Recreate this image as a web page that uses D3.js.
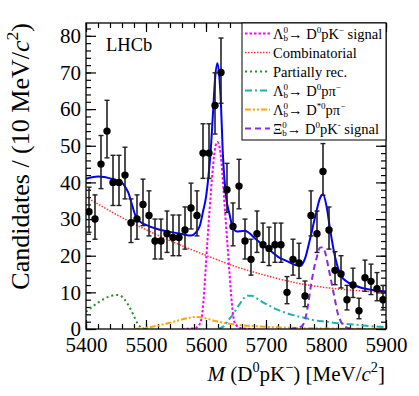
<!DOCTYPE html>
<html>
<head>
<meta charset="utf-8">
<script src="https://cdn.jsdelivr.net/npm/d3@7"></script>
<style>
  body { margin: 0; background: #fff; }
  text { font-family: "Liberation Serif", "Times New Roman", serif; }
</style>
</head>
<body>
<div id="chart"></div>
<script>
// data (10 MeV bins)
var binMass = [5405,5415,5425,5435,5445,5455,5465,5475,5485,5495,
               5505,5515,5525,5535,5545,5555,5565,5575,5585,5595,
               5605,5615,5625,5635,5645,5655,5665,5675,5685,5695,
               5705,5715,5725,5735,5745,5755,5765,5775,5785,5795,
               5805,5815,5825,5835,5845,5855,5865,5875,5885,5895]
var counts = [32,30,45,54,40,40,42,29,30,34,
              31,24,24,26,25,25,27,33,31,48,
              48,61,70,38,28,39,24,19,26,23,
              22,23,23,10,19,18,9,31,26,43,
              27,16,15,8,12,5,14,13,11,8]
var errLow = [5.6,5.5,6.7,7.3,6.3,6.3,6.5,5.4,5.5,5.8,
              5.6,4.9,4.9,5.1,5.0,5.0,5.2,5.7,5.6,6.9,
              6.9,7.8,8.4,6.2,5.3,6.2,4.9,4.3,5.1,4.8,
              4.7,4.8,4.8,3.1,4.3,4.2,2.9,5.6,5.1,6.5,
              5.2,3.9,3.8,2.8,3.4,2.2,3.7,3.6,3.3,2.8]
var errHigh = [6.7,6.6,7.8,8.4,7.4,7.4,7.6,6.5,6.6,6.9,
               6.7,6.0,6.0,6.2,6.1,6.1,6.3,6.8,6.7,8.0,
               8.0,8.9,9.4,7.2,6.4,7.3,6.0,5.5,6.2,5.9,
               5.8,5.9,5.9,4.3,5.5,5.4,4.1,6.7,6.2,7.6,
               6.3,5.1,5.0,3.9,4.6,3.4,4.8,4.7,4.4,3.9]

// fit curves
var totalMass = [5400,5410,5420,5430,5440,5450,5460,5466,5471,5476,5482,5490,5500,5520,5540,5560,5575,5583,5590,5595,
                 5600,5604,5608,5612,5615,5619,5622,5625,5628,5633,5639,5645,5652,5658,5665,5672,5680,5690,5698,5710,
                 5720,5735,5748,5757,5765,5773,5782,5790,5795,5801,5807,5815,5826,5836,5846,5860,5873,5900]
var totalVals = [41,41.4,41.6,41.5,41.1,40.7,40,38.6,37,34.3,31.1,29.3,28.4,27.2,26.5,25.9,25.5,26.3,28.3,32,
                 36,41.5,49,60,68,72.5,69.3,61,48,36.6,31.5,27.5,26.6,26.7,26.8,26.2,25,23.6,22.5,21,
                 19.7,18.5,17.5,17.2,19.2,24.3,30.6,35.7,36.8,33.4,27,19.7,14.3,12.8,12,11.2,10.8,10.2]
var lbSigMass = [5560,5580,5588,5592,5596,5600,5604,5608,5612,5616,5619,5622,5626,5630,5634,5638,5642,5646,5650,5660,5680]
var lbSigVals = [0,0.2,1,2.5,8,18,28,37,45,50,51,50,45,36,27,18,9,3,1,0.2,0]
var combMass = [5400,5450,5500,5550,5600,5650,5700,5750,5800,5850,5900]
var combVals = [36,31.3,27.1,23.4,20.1,17,14.6,12.6,11.3,10.5,10]
var partMass = [5400,5410,5420,5430,5440,5450,5456,5462,5468,5474,5480,5486,5492,5500]
var partVals = [4.7,6,7.2,8.2,8.9,9.3,9.2,8.5,7.2,5.5,3.5,1.5,0.4,0]
var dppiMass = [5620,5630,5637,5645,5651,5657,5663,5670,5676,5685,5693,5705,5720,5735,5750,5765,5780,5800,5820,5840,5860,5880,5900]
var dppiVals = [0,0.8,2.3,4,5.6,7,8.4,9.1,9.1,8.3,7.5,6.4,5.2,4.3,3.6,3,2.4,2,1.6,1.3,1,0.7,0.5]
var dstMass = [5480,5495,5510,5525,5540,5555,5570,5585,5600,5615,5630,5645,5660,5680,5700,5730,5760,5800,5850,5900]
var dstVals = [0,0.2,0.6,1.1,1.7,2.4,3.0,3.3,2.9,2.2,1.7,1.3,1.0,0.8,0.6,0.4,0.25,0.15,0.05,0]
var xibMass = [5740,5760,5765,5770,5775,5780,5785,5790,5795,5800,5805,5810,5815,5820,5825,5832,5845]
var xibVals = [0,0.8,2.5,6.5,12,16.5,19.8,22.2,22.3,20,16,12,7.9,4,2,0.6,0]

var xTicks = [5400,5500,5600,5700,5800,5900]
var yTicks = [0,10,20,30,40,50,60,70,80]

var width = 419, height = 396
var L = 86, R = 386, T = 23, B = 329

var svg = d3.select("#chart").append("svg")
  .attr("width", width).attr("height", height)
svg.append("rect").attr("width", width).attr("height", height).attr("fill", "#fff")

var x = d3.scaleLinear().domain([5400, 5900]).range([L, R])
var y = d3.scaleLinear().domain([0, 83.5]).range([B, T])

svg.append("clipPath").attr("id", "clip")
  .append("rect").attr("x", L).attr("y", T).attr("width", R - L).attr("height", B - T)

// axes: ticks inside on all four sides
var minorX = d3.range(5400, 5901, 20), minorY = d3.range(0, 83, 2)
function styleAxis(g) {
  g.select(".domain").remove()
  g.selectAll("line").attr("stroke", "#000").attr("stroke-width", 1.2)
  g.attr("font-family", "Liberation Serif, Times New Roman, serif").attr("font-size", 21)
  g.selectAll("text").attr("fill", "#000")
}
svg.append("g").attr("transform", "translate(0," + B + ")")
  .call(d3.axisBottom(x).tickValues(minorX).tickSize(-5).tickFormat("")).call(styleAxis)
svg.append("g").attr("transform", "translate(0," + B + ")")
  .call(d3.axisBottom(x).tickValues(xTicks).tickSize(-9).tickPadding(8).tickFormat(d3.format("d"))).call(styleAxis)
svg.append("g").attr("transform", "translate(0," + T + ")")
  .call(d3.axisTop(x).tickValues(minorX).tickSize(-5).tickFormat("")).call(styleAxis)
svg.append("g").attr("transform", "translate(0," + T + ")")
  .call(d3.axisTop(x).tickValues(xTicks).tickSize(-9).tickFormat("")).call(styleAxis)
svg.append("g").attr("transform", "translate(" + L + ",0)")
  .call(d3.axisLeft(y).tickValues(minorY).tickSize(-5).tickFormat("")).call(styleAxis)
svg.append("g").attr("transform", "translate(" + L + ",0)")
  .call(d3.axisLeft(y).tickValues(yTicks).tickSize(-10).tickPadding(5)).call(styleAxis)
svg.append("g").attr("transform", "translate(" + R + ",0)")
  .call(d3.axisRight(y).tickValues(minorY).tickSize(-5).tickFormat("")).call(styleAxis)
svg.append("g").attr("transform", "translate(" + R + ",0)")
  .call(d3.axisRight(y).tickValues(yTicks).tickSize(-10).tickFormat("")).call(styleAxis)

// curves
var curves = [
  {m: partMass, v: partVals, color: "#2e8b2e", dash: "2,3", w: 2},
  {m: dstMass, v: dstVals, color: "#ffa500", dash: "6,2,2,2,2,2", w: 2},
  {m: dppiMass, v: dppiVals, color: "#20b0b0", dash: "7,3,2,3", w: 2},
  {m: combMass, v: combVals, color: "#ff3333", dash: "1.5,1.5", w: 1.5},
  {m: lbSigMass, v: lbSigVals, color: "#ff00ff", dash: "2.5,2", w: 2},
  {m: xibMass, v: xibVals, color: "#8a2be2", dash: "6,4", w: 2},
  {m: totalMass, v: totalVals, color: "#0000ff", dash: null, w: 2}
]
var line = d3.line()
  .x(function (d) { return x(d[0]) })
  .y(function (d) { return y(d[1]) })
  .curve(d3.curveMonotoneX)
var cg = svg.append("g").attr("clip-path", "url(#clip)")
curves.forEach(function (c) {
  cg.append("path")
    .datum(d3.zip(c.m, c.v))
    .attr("d", line)
    .attr("fill", "none")
    .attr("stroke", c.color)
    .attr("stroke-width", c.w)
    .attr("stroke-dasharray", c.dash)
})

// data points with asymmetric errors
var pts = binMass.map(function (m, i) { return [m, counts[i], errLow[i], errHigh[i]] })
var pg = svg.append("g").attr("clip-path", "url(#clip)")
pg.selectAll("line.err").data(pts).enter().append("line")
  .attr("x1", function (d) { return x(d[0]) }).attr("x2", function (d) { return x(d[0]) })
  .attr("y1", function (d) { return y(d[1] - d[2]) }).attr("y2", function (d) { return y(d[1] + d[3]) })
  .attr("stroke", "#222").attr("stroke-width", 1.6)
pg.selectAll("line.capHi").data(pts).enter().append("line")
  .attr("x1", function (d) { return x(d[0]) - 2.5 }).attr("x2", function (d) { return x(d[0]) + 2.5 })
  .attr("y1", function (d) { return y(d[1] + d[3]) }).attr("y2", function (d) { return y(d[1] + d[3]) })
  .attr("stroke", "#222").attr("stroke-width", 1.4)
pg.selectAll("line.capLo").data(pts).enter().append("line")
  .attr("x1", function (d) { return x(d[0]) - 2.5 }).attr("x2", function (d) { return x(d[0]) + 2.5 })
  .attr("y1", function (d) { return y(d[1] - d[2]) }).attr("y2", function (d) { return y(d[1] - d[2]) })
  .attr("stroke", "#222").attr("stroke-width", 1.4)
pg.selectAll("circle").data(pts).enter().append("circle")
  .attr("cx", function (d) { return x(d[0]) })
  .attr("cy", function (d) { return y(d[1]) })
  .attr("r", 3.7).attr("fill", "#000")

// rich text: parts with sup / sub, sub may stack under previous sup
function rich(t, parts, fs, small, up, down) {
  small = small || 0.68; up = up || 0.42; down = down || 0.28
  var base = 0, lastW = 0
  parts.forEach(function (p) {
    var size = p.s ? fs * small : fs
    var shift = p.s === "sup" ? -fs * up : p.s === "sub" ? fs * down : 0
    var ts = t.append("tspan").text(p.t)
      .style("font-size", size + "px")
      .attr("dy", shift - base)
    if (p.back) ts.attr("dx", -lastW)
    if (p.i) ts.style("font-style", "italic")
    base = shift
    lastW = ts.node().getComputedTextLength()
  })
}

// frame
svg.append("rect").attr("x", L).attr("y", T).attr("width", R - L).attr("height", B - T)
  .attr("fill", "none").attr("stroke", "#000").attr("stroke-width", 1.3)

// legend
var legendRows = [
  {color: "#ff00ff", dash: "2.5,2", w: 2, parts: [{t: "Λ"}, {t: "0", s: "sup"}, {t: "b", s: "sub", back: true}, {t: "→ D"}, {t: "0", s: "sup"}, {t: "pK"}, {t: "−", s: "sup"}, {t: " signal"}]},
  {color: "#ff3333", dash: "1.5,1.5", w: 1.5, parts: [{t: "Combinatorial"}]},
  {color: "#2e8b2e", dash: "2,3", w: 2, parts: [{t: "Partially rec."}]},
  {color: "#20b0b0", dash: "7,3,2,3", w: 2, parts: [{t: "Λ"}, {t: "0", s: "sup"}, {t: "b", s: "sub", back: true}, {t: "→ D"}, {t: "0", s: "sup"}, {t: "pπ"}, {t: "−", s: "sup"}]},
  {color: "#ffa500", dash: "6,2,2,2,2,2", w: 2, parts: [{t: "Λ"}, {t: "0", s: "sup"}, {t: "b", s: "sub", back: true}, {t: "→ D"}, {t: "*0", s: "sup"}, {t: "pπ"}, {t: "−", s: "sup"}]},
  {color: "#8a2be2", dash: "6,4", w: 2, parts: [{t: "Ξ"}, {t: "0", s: "sup"}, {t: "b", s: "sub", back: true}, {t: "→ D"}, {t: "0", s: "sup"}, {t: "pK"}, {t: "-", s: "sup"}, {t: " signal"}]}
]
var lg = svg.append("g")
lg.append("rect").attr("x", 242).attr("y", T).attr("width", R - 242).attr("height", 117)
  .attr("fill", "#fff").attr("stroke", "#000").attr("stroke-width", 1)
legendRows.forEach(function (r, i) {
  var cy = 33.5 + i * 19
  lg.append("line").attr("x1", 245).attr("x2", 270).attr("y1", cy).attr("y2", cy)
    .attr("stroke", r.color).attr("stroke-width", r.w).attr("stroke-dasharray", r.dash)
  var t = lg.append("text").attr("x", 273).attr("y", cy + 5).attr("font-size", 14.5).attr("fill", "#000")
  rich(t, r.parts, 14.5, 0.62, 0.36, 0.2)
})

// LHCb label
svg.append("text").attr("x", 106).attr("y", 50.5).attr("font-size", 18.5).text("LHCb")

// axis titles
var xt = svg.append("text").attr("x", 385).attr("y", 381).attr("text-anchor", "end").attr("font-size", 21)
rich(xt, [{t: "M", i: true}, {t: " (D"}, {t: "0", s: "sup"}, {t: "pK"}, {t: "−", s: "sup"}, {t: ") [MeV/"}, {t: "c", i: true}, {t: "2", s: "sup"}, {t: "]"}], 21)

var yt = svg.append("text").attr("transform", "translate(29," + T + ") rotate(-90)")
  .attr("text-anchor", "end").attr("font-size", 26)
rich(yt, [{t: "Candidates / (10 MeV/"}, {t: "c", i: true}, {t: "2", s: "sup"}, {t: ")"}], 26)
</script>
</body>
</html>
